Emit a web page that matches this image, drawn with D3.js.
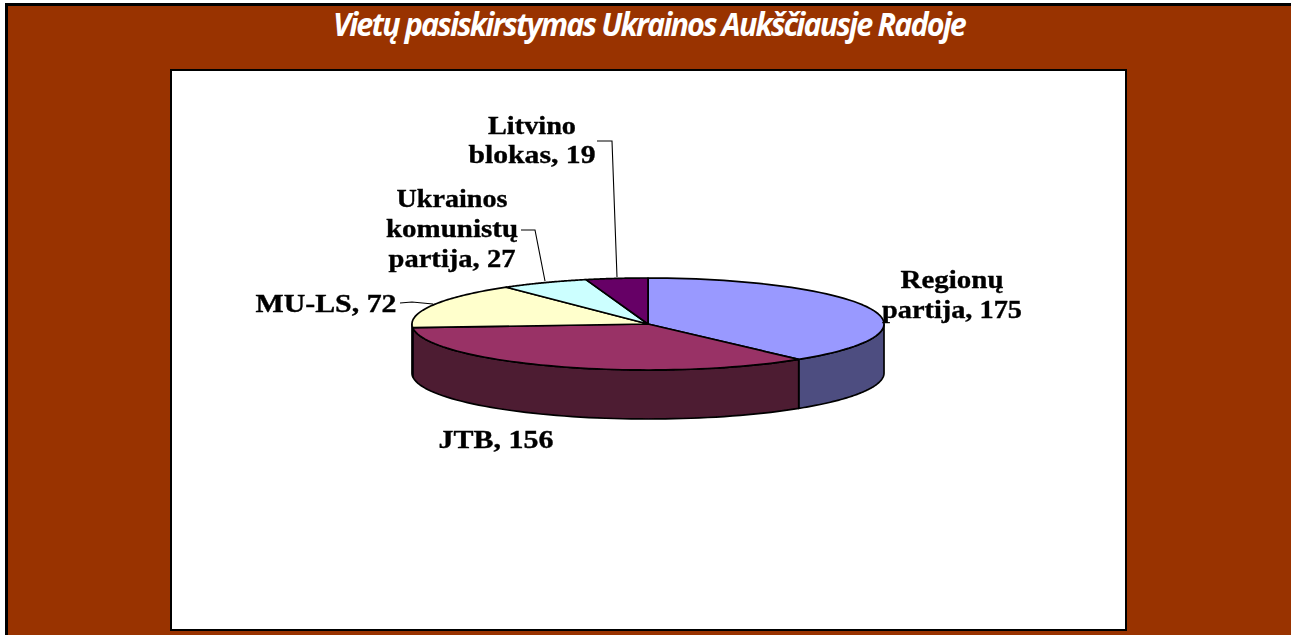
<!DOCTYPE html>
<html><head><meta charset="utf-8">
<script src="https://cdn.jsdelivr.net/npm/d3@7"></script>
<style>html,body{margin:0;padding:0;background:#fff;overflow:hidden}svg{display:block}</style>
</head><body><svg id="c" width="1291" height="635"></svg>
<script>
const titleText = "Vietų pasiskirstymas Ukrainos Aukščiausje Radoje";
const categories = ["Regionų partija", "JTB", "MU-LS", "Ukrainos komunistų partija", "Litvino blokas"];
const values = [175, 156, 72, 27, 19];
const topColors = ["#9999FF", "#993366", "#FFFFCC", "#CCFFFF", "#660066"];
const sideColors = ["#4D4D80", "#4D1A33", "#808066", "#668080", "#330033"];
const labelLines = [["Regionų", "partija, 175"], ["JTB, 156"], ["MU-LS, 72"], ["Ukrainos", "komunistų", "partija, 27"], ["Litvino", "blokas, 19"]];
const labelCx = [952, 496, 326, 452, 532];
const labelY = [[288, 318], [448], [312], [207, 237, 267], [134, 163]];
const labelW = [[103, 140], [115], [141], [111, 132, 127], [88, 127]];
const leaders = [null, null, [[400,303],[412,302],[433,304]], [[521,230],[535,230],[545,281]], [[597,141],[612,141],[617,277]]];

const svg = d3.select("#c");
const defs = svg.append("defs");
defs.append("filter").attr("id","soft").attr("x","-5%").attr("y","-5%").attr("width","110%").attr("height","110%")
  .append("feGaussianBlur").attr("stdDeviation",0.45);

svg.append("rect").attr("width",1291).attr("height",635).attr("fill","#fff");
svg.append("rect").attr("x",5).attr("y",3).attr("width",1286).attr("height",632).attr("fill","#000");
svg.append("rect").attr("x",8).attr("y",6).attr("width",1283).attr("height",629).attr("fill","#993300");
svg.append("rect").attr("x",171).attr("y",70).attr("width",955).attr("height",560).attr("fill","#fff").attr("stroke","#000").attr("stroke-width",2);

svg.append("text").attr("x",649).attr("y",36).attr("text-anchor","middle")
  .attr("font-family","'Open Sans'").attr("font-weight",700).attr("font-style","italic")
  .attr("font-size",33).attr("letter-spacing",-2).attr("textLength",632).attr("lengthAdjust","spacingAndGlyphs")
  .attr("fill","#fff").text(titleText);

const cx=648, cy=324, rx=236, ry=46, depth=49;
const px = d3.scaleLinear().domain([-1,1]).range([cx-rx,cx+rx]);
const py = d3.scaleLinear().domain([-1,1]).range([cy-ry,cy+ry]);
const pie = d3.pie().sort(null).value(d=>d)(values);
const pt = a => [px(Math.sin(a)), py(-Math.cos(a))];
const line = d3.line();
const arcPts = (a0,a1) => d3.range(0,61).map(i=>pt(a0+(a1-a0)*i/60));
const stroke = {stroke:"#000","stroke-width":1.7,"stroke-linejoin":"round"};
const style = s => { Object.entries(stroke).forEach(([k,v])=>s.attr(k,v)); return s; };
const chart = svg.append("g").attr("filter","url(#soft)");

pie.forEach((p,i)=>{
  const a0=Math.max(p.startAngle,Math.PI/2), a1=Math.min(p.endAngle,Math.PI*1.5);
  if(a1<=a0) return;
  const upper=arcPts(a0,a1);
  const lower=upper.slice().reverse().map(([x,y])=>[x,y+depth]);
  chart.append("path").attr("d",line(upper.concat(lower))+"Z").attr("fill",sideColors[i]).call(style);
});
pie.forEach((p,i)=>{
  chart.append("path").attr("d",line([[cx,cy]].concat(arcPts(p.startAngle,p.endAngle)))+"Z")
    .attr("fill",topColors[i]).call(style);
});
leaders.forEach(l=>{ if(l) chart.append("path").attr("d",line(l)).attr("fill","none").attr("stroke","#000").attr("stroke-width",1.1); });
labelLines.forEach((lines,i)=>{
  lines.forEach((t,j)=>{
    chart.append("text").attr("x",labelCx[i]).attr("y",labelY[i][j]).attr("text-anchor","middle")
      .attr("font-family","'Liberation Serif'").attr("font-weight",700).attr("font-size",25)
      .attr("textLength",labelW[i][j]).attr("lengthAdjust","spacingAndGlyphs")
      .attr("fill","#000").attr("stroke","#000").attr("stroke-width",0.35).text(t);
  });
});
</script></body></html>
